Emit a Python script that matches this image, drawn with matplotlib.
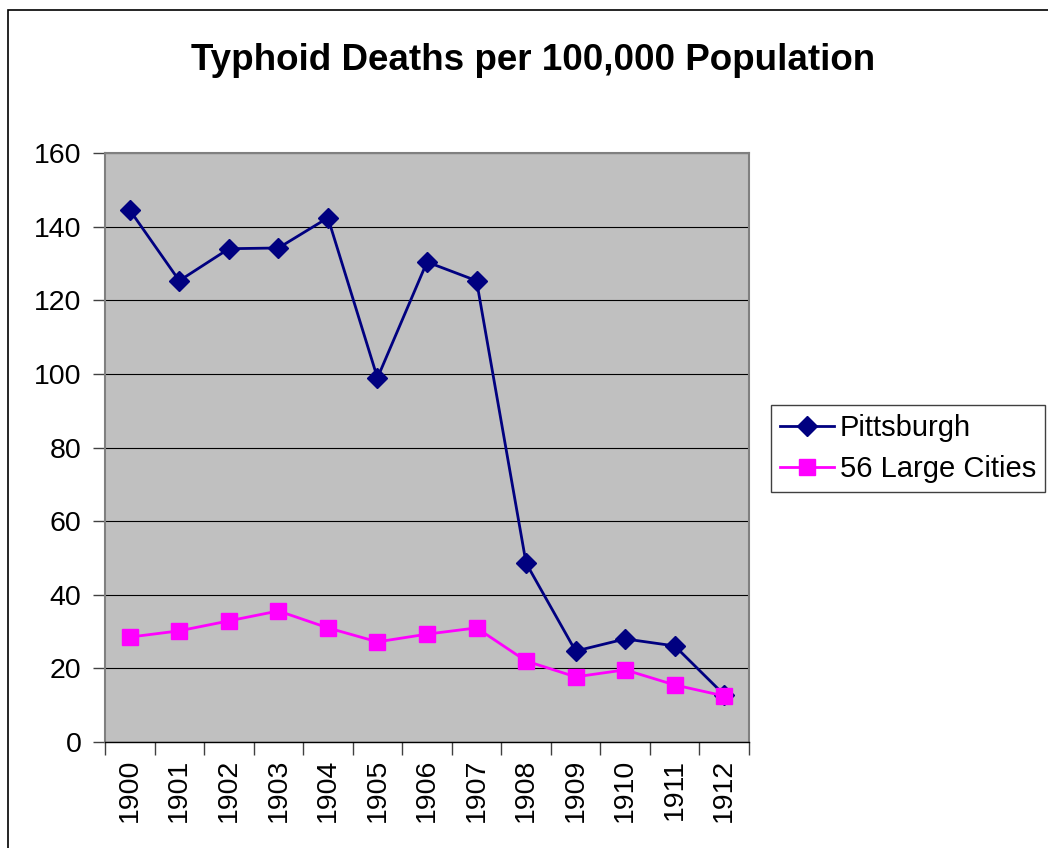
import matplotlib.pyplot as plt
from matplotlib.patches import Rectangle

plt.rcParams['font.family'] = ['Liberation Sans', 'DejaVu Sans']

years = ['1900', '1901', '1902', '1903', '1904', '1905', '1906',
         '1907', '1908', '1909', '1910', '1911', '1912']
pittsburgh = [144.5, 125.3, 134.0, 134.2, 142.4, 98.9, 130.4,
              125.3, 48.6, 24.7, 28.0, 26.1, 12.8]
large_cities = [28.5, 30.2, 32.9, 35.6, 31.0, 27.2, 29.3,
                31.0, 22.0, 17.7, 19.6, 15.5, 12.5]

fig = plt.figure(figsize=(10.48, 8.48), dpi=100)

# outer chart border, runs off the right and bottom edges
fig.patches.append(Rectangle((8/1048, -0.05), 1.1, 1 - 10/848 + 0.05,
                             transform=fig.transFigure, fill=False,
                             edgecolor='black', linewidth=1.2))

ax = fig.add_axes([105/1048, 1 - 742/848, 644/1048, 589/848])
ax.set_facecolor('#C0C0C0')

x = range(len(years))
ax.plot(x, pittsburgh, color='#000080', marker='D', markersize=10,
        linewidth=2, label='Pittsburgh', zorder=3)
ax.plot(x, large_cities, color='#FF00FF', marker='s', markersize=11,
        linewidth=2, label='56 Large Cities', zorder=3)

ax.set_xlim(-0.5, len(years) - 0.5)
ax.set_ylim(0, 160)
ax.set_yticks(range(0, 161, 20))
ax.yaxis.grid(True, color='black', linewidth=0.8)
ax.set_axisbelow(True)

ax.set_xticks(x)
ax.set_xticklabels(years, rotation=90, fontsize=20.5)
ax.tick_params(axis='x', length=0, pad=12)
ax.set_xticks([i - 0.5 for i in range(len(years) + 1)], minor=True)
ax.tick_params(axis='x', which='minor', length=9, width=1, color='#404040')
ax.tick_params(axis='y', labelsize=20.5, length=9, width=1, color='#404040', pad=8)

for side in ['left', 'top', 'right']:
    ax.spines[side].set_color('#808080')
    ax.spines[side].set_linewidth(1.5)
ax.spines['bottom'].set_color('black')
ax.spines['bottom'].set_linewidth(1)

fig.text(533/1048, 1 - 60/848, 'Typhoid Deaths per 100,000 Population',
         ha='center', va='center', fontsize=26.5, fontweight='bold')

leg = ax.legend(loc='upper left', bbox_to_anchor=(771/1048, 1 - 405/848),
                bbox_transform=fig.transFigure, fontsize=21, frameon=True,
                fancybox=False, edgecolor='#404040', framealpha=1,
                handlelength=1.85, handletextpad=0.2, borderpad=0.3,
                labelspacing=0.45, borderaxespad=0)
leg.get_frame().set_linewidth(1)

plt.savefig('out.png', dpi=100)
